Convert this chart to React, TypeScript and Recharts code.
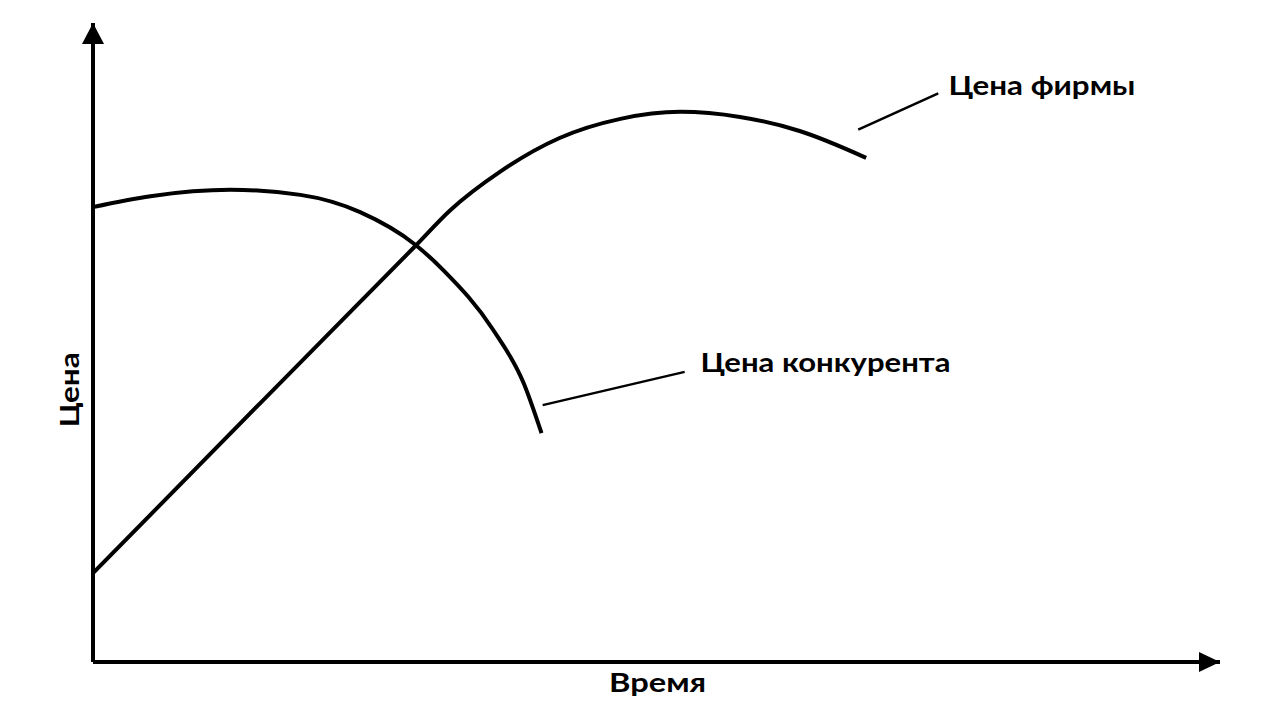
import React from "react";
import {
  ComposedChart,
  Line,
  XAxis,
  YAxis,
  ReferenceLine,
  ReferenceDot,
} from "recharts";

// цена конкурента: растёт чуть-чуть, потом резко падает
const competitorTime = [0, 5.1, 12.2, 18.4, 23.7, 28.6, 31.1, 35.5, 38.2, 39.8];
const competitorPrice = [71.2, 72.9, 73.9, 73.1, 70.4, 65.3, 61.3, 52.0, 43.7, 35.8];

// цена фирмы: линейный рост, затем выход на максимум и спад
const firmTime = [0, 15, 28.6, 31.7, 36.1, 41.4, 46.8, 52.1, 57.4, 62.7, 68.6];
const firmPrice = [13.9, 40.8, 65.1, 70.7, 76.7, 82.0, 85.0, 86.1, 85.3, 83.1, 78.9];

const competitorData = competitorTime.map((t, i) => ({ t, price: competitorPrice[i] }));
const firmData = firmTime.map((t, i) => ({ t, price: firmPrice[i] }));

const FONT = "Lato, 'Noto Sans', sans-serif";

const textShape =
  (text: string, length: number, anchor: "start" | "middle" = "start", rotate = false) =>
  (props: any) => {
    const { cx, cy } = props;
    return (
      <text
        x={cx}
        y={cy}
        textAnchor={anchor}
        fontFamily={FONT}
        fontWeight={700}
        fontSize={27}
        fill="#000"
        textLength={length}
        lengthAdjust="spacingAndGlyphs"
        transform={rotate ? `rotate(-90 ${cx} ${cy})` : undefined}
      >
        {text}
      </text>
    );
  };

const arrowUp = (props: any) => {
  const { cx, cy } = props;
  return <path d={`M${cx},${cy} L${cx - 11},${cy + 21} L${cx + 11},${cy + 21} Z`} fill="#000" />;
};

const arrowRight = (props: any) => {
  const { cx, cy } = props;
  return <path d={`M${cx},${cy} L${cx - 21},${cy - 10} L${cx - 21},${cy + 10} Z`} fill="#000" />;
};

const App: React.FC = () => {
  return (
    <div style={{ width: 1256, height: 702, background: "#fff" }}>
      <ComposedChart
        width={1256}
        height={702}
        margin={{ top: 15, right: 44, left: 85, bottom: 48 }}
      >
        <XAxis type="number" dataKey="t" domain={[0, 100]} hide allowDataOverflow />
        <YAxis type="number" dataKey="price" domain={[0, 100]} hide allowDataOverflow />

        {/* оси со стрелками */}
        <ReferenceLine x={0} stroke="#000" strokeWidth={4} ifOverflow="visible" />
        <ReferenceLine y={0} stroke="#000" strokeWidth={4} ifOverflow="visible" />
        <ReferenceDot x={0} y={100} r={0} shape={arrowUp} ifOverflow="visible" />
        <ReferenceDot x={100} y={0} r={0} shape={arrowRight} ifOverflow="visible" />

        <Line
          data={competitorData}
          dataKey="price"
          type="monotone"
          stroke="#000"
          strokeWidth={4}
          dot={false}
          isAnimationActive={false}
        />
        <Line
          data={firmData}
          dataKey="price"
          type="monotone"
          stroke="#000"
          strokeWidth={4}
          dot={false}
          isAnimationActive={false}
        />

        <ReferenceLine
          segment={[{ x: 67.9, y: 83.3 }, { x: 75.0, y: 89.0 }]}
          stroke="#000"
          strokeWidth={2.5}
          ifOverflow="visible"
        />
        <ReferenceLine
          segment={[{ x: 39.9, y: 40.2 }, { x: 52.5, y: 45.4 }]}
          stroke="#000"
          strokeWidth={2.5}
          ifOverflow="visible"
        />

        <ReferenceDot x={75.9} y={88.7} r={0} shape={textShape("Цена фирмы", 187)} ifOverflow="visible" />
        <ReferenceDot x={53.9} y={45.4} r={0} shape={textShape("Цена конкурента", 250)} ifOverflow="visible" />
        <ReferenceDot x={50.1} y={-4.7} r={0} shape={textShape("Время", 97, "middle")} ifOverflow="visible" />
        <ReferenceDot x={-1.25} y={42.6} r={0} shape={textShape("Цена", 75, "middle", true)} ifOverflow="visible" />
      </ComposedChart>
    </div>
  );
};

export default App;
